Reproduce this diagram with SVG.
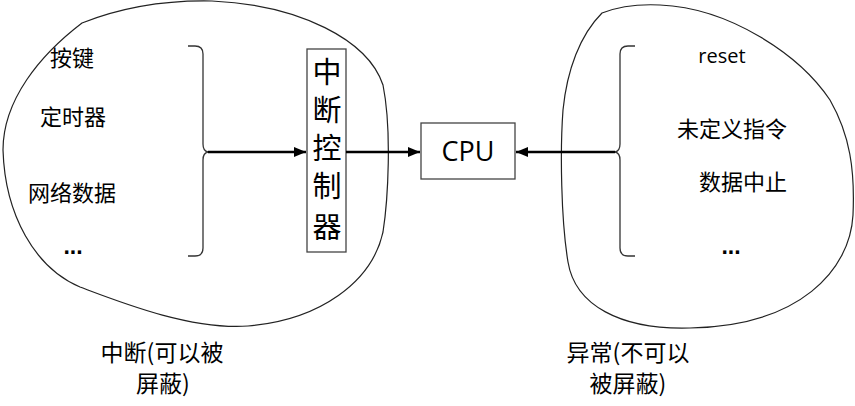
<svg xmlns="http://www.w3.org/2000/svg" width="855" height="406" viewBox="0 0 855 406">
<style>
.blob{fill:none;stroke:#222;stroke-width:1.2}
.brace{fill:none;stroke:#333;stroke-width:1.3}
.box{fill:#fff;stroke:#444;stroke-width:1.3}
.arr{fill:none;stroke:#000;stroke-width:2.6;marker-end:url(#ah)}
.t{font-family:"Noto Sans CJK SC","Open Sans",sans-serif;font-size:22px;fill:#000;text-anchor:middle}
.b{font-size:23px}
.lat{font-family:"Open Sans","Noto Sans CJK SC",sans-serif;fill:#000;text-anchor:middle}
.v{font-family:"Noto Sans CJK SC",sans-serif;font-size:29px;font-weight:400;fill:#000;text-anchor:middle}
.dots{font-family:"Liberation Sans",sans-serif;font-size:23px;font-weight:bold;fill:#000;text-anchor:middle}
</style>
<defs>
<marker id="ah" markerUnits="userSpaceOnUse" markerWidth="13" markerHeight="11" refX="12" refY="5" orient="auto">
<path d="M0,0 L12,5 L0,10 Z" fill="#000"/>
</marker>
</defs>
<g id="interrupt-region">
<path class="blob" d="M82,23 C120,8 165,0 212,1 C300,5 368,40 383,85 C392,130 388,200 383,232 C372,282 320,320 248,326 C190,330 120,302 80,287 C35,268 5,215 3,150 C3,100 40,55 82,23 Z"/>
<path class="brace" d="M188,46 L195,46 Q203,46 203,54 L203,144 Q203,151 208,152 Q203,153 203,160 L203,248 Q203,256 195,256 L188,256"/>
<text class="t" x="72" y="66">按键</text>
<text class="t" x="73" y="125">定时器</text>
<text class="t" x="72" y="201">网络数据</text>
<text class="dots" x="73" y="254">...</text>
<text class="t b" x="162" y="361">中断(可以被</text>
<text class="t b" x="163" y="392">屏蔽)</text>
</g>
<g id="exception-region">
<path class="blob" d="M602,13 C620,6 640,4 660,5 C730,8 800,55 830,100 C850,135 855,170 853,215 C850,270 800,326 690,328 C620,330 575,305 568,262 C561,220 560,150 563,110 C567,70 580,35 602,13 Z"/>
<path class="brace" d="M635,46 L628,46 Q620,46 620,54 L620,144 Q620,151 615,152 Q620,153 620,160 L620,248 Q620,256 628,256 L635,256"/>
<text class="lat" x="722" y="63" font-size="20">reset</text>
<text class="t" x="732" y="137">未定义指令</text>
<text class="t" x="743" y="190">数据中止</text>
<text class="dots" x="731" y="254">...</text>
<text class="t b" x="628" y="361">异常(不可以</text>
<text class="t b" x="628" y="392">被屏蔽)</text>
</g>
<g id="interrupt-controller">
<rect class="box" x="307" y="49" width="39" height="203"/>
<text class="v" x="327" y="83">中</text>
<text class="v" x="327" y="121">断</text>
<text class="v" x="327" y="159">控</text>
<text class="v" x="327" y="197">制</text>
<text class="v" x="327" y="238">器</text>
</g>
<g id="cpu">
<rect class="box" x="421" y="123" width="94" height="56"/>
<text class="lat" x="468" y="161" font-size="27">CPU</text>
</g>
<g id="connectors">
<path class="arr" d="M208,152 L306,152"/>
<path class="arr" d="M346,152 L420,152"/>
<path class="arr" d="M615,152 L516,152"/>
</g>
</svg>
